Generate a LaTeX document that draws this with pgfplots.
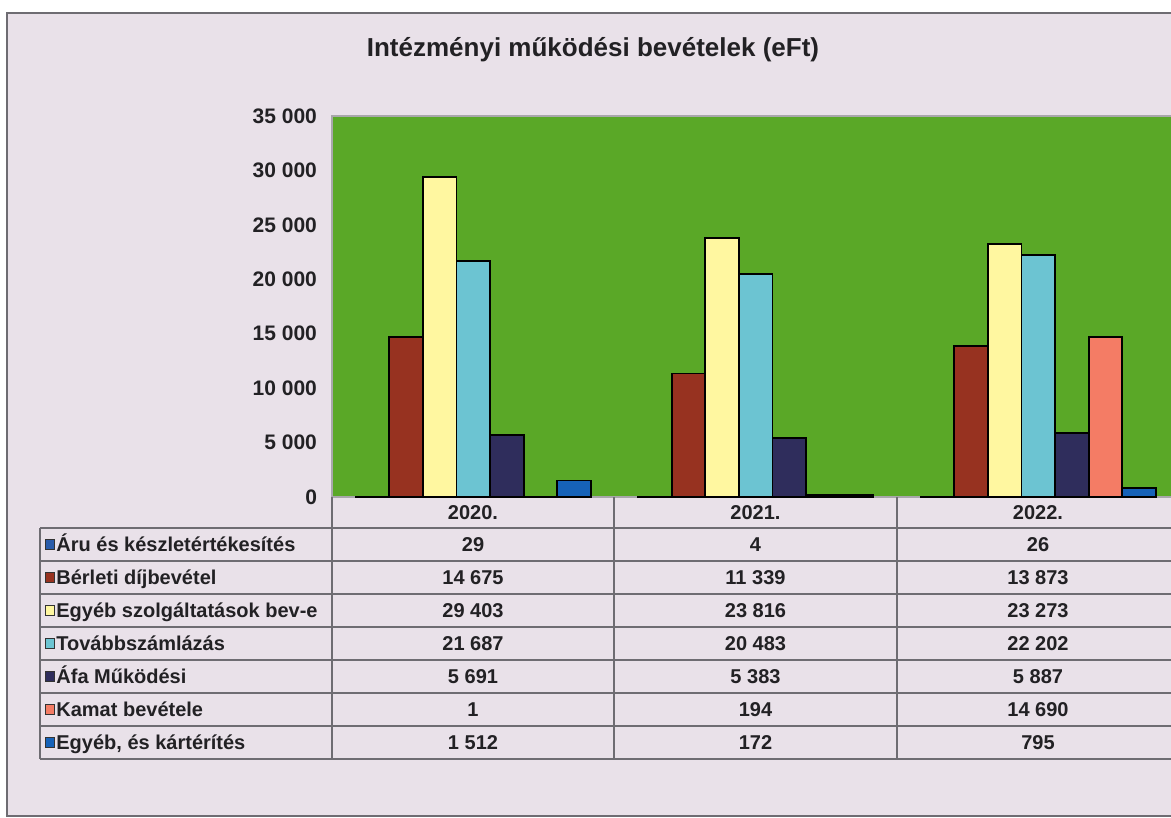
\documentclass[border=0pt]{standalone}
\usepackage{fontspec}
\setmainfont{Liberation Sans}
\usepackage{pgfplots}
\pgfplotsset{compat=1.18}

\definecolor{bgwash}{HTML}{E9E1E9}
\definecolor{plotgreen}{HTML}{5AA827}
\definecolor{gridgrey}{HTML}{6E6C72}
\definecolor{txt}{HTML}{222124}
\definecolor{c1}{HTML}{2A5CAA}
\definecolor{c2}{HTML}{973220}
\definecolor{c3}{HTML}{FFF7A0}
\definecolor{c4}{HTML}{6CC4D2}
\definecolor{c5}{HTML}{2F2D5C}
\definecolor{c6}{HTML}{F47C65}
\definecolor{c7}{HTML}{1662B8}

% rows of the data table: year, then one value per series
\pgfplotstableread{
x  aru bérl egyeb tovabb afa kamat karter
0  29  14675 29403 21687 5691 1     1512
1  4   11339 23816 20483 5383 194   172
2  26  13873 23273 22202 5887 14690 795
}\revenue

\tikzset{tabtext/.style={font=\bfseries\fontsize{10}{12}\selectfont, text=txt,
  text height=7.2pt, text depth=0pt, inner sep=0pt}}
\newcommand{\cell}[3]{\node[tabtext] at (#1,#2) {#3};}

\begin{document}
\begin{tikzpicture}
\useasboundingbox (0,0) rectangle (585.5pt,409pt);
\fill[white] (0,0) rectangle (585.5pt,409pt);

\begin{scope}[x=0.5pt, y=-0.5pt, yshift=409pt]
  \filldraw[fill=bgwash, draw=gridgrey, line width=0.8pt] (7,13) rectangle (1190,816);
  \node[font=\bfseries\fontsize{13}{15}\selectfont, text=txt] at (593,50) {Intézményi működési bevételek (eFt)};
\end{scope}

\begin{axis}[
  at={(166pt,160.5pt)}, anchor=south west,
  scale only axis, width=423.75pt, height=190.5pt,
  xmin=-0.5, xmax=2.5, ymin=0, ymax=35000,
  ybar=0pt, bar width=16.8pt,
  xtick=\empty,
  ytick={0,5000,...,35000},
  scaled y ticks=false,
  axis background/.style={fill=plotgreen},
  axis line style={draw=gridgrey!60, line width=0.8pt},
  tick style={draw=none},
  yticklabel style={font=\bfseries\fontsize{10.5}{12}\selectfont, text=txt, xshift=-4pt},
  /pgf/number format/1000 sep={\ },
  /pgf/number format/assume math mode=true,
  every axis plot/.append style={draw=black, line width=0.9pt},
  clip=false,
]
\addplot[fill=c1] table[x=x, y=aru] {\revenue};
\addplot[fill=c2] table[x=x, y=bérl] {\revenue};
\addplot[fill=c3] table[x=x, y=egyeb] {\revenue};
\addplot[fill=c4] table[x=x, y=tovabb] {\revenue};
\addplot[fill=c5] table[x=x, y=afa] {\revenue};
\addplot[fill=c6] table[x=x, y=kamat] {\revenue};
\addplot[fill=c7] table[x=x, y=karter] {\revenue};
\end{axis}

\begin{scope}[x=0.5pt, y=-0.5pt, yshift=409pt]
  \begin{scope}[draw=gridgrey, line width=0.75pt]
    \foreach \yy in {528,561,594,627,660,693,726,759} \draw (40,\yy) -- (1190,\yy);
    \draw (40,528) -- (40,759);
    \foreach \xx in {332,614,897,1179} \draw (\xx,497) -- (\xx,759);
  \end{scope}
  \cell{473}{512}{2020.}
  \cell{755.5}{512}{2021.}
  \cell{1038}{512}{2022.}
  \foreach \lab/\col [count=\i from 0] in {%
    Áru és készletértékesítés/c1,
    Bérleti díjbevétel/c2,
    Egyéb szolgáltatások bev-e/c3,
    Továbbszámlázás/c4,
    Áfa Működési/c5,
    Kamat bevétele/c6,
    Egyéb{,} és kártérítés/c7} {
    \pgfmathsetmacro{\yy}{544.5+33*\i}
    \filldraw[fill=\col, draw=black!80, line width=0.5pt] (45,\yy-5) rectangle (54,\yy+5);
    \node[tabtext, anchor=west] at (56,\yy) {\lab};
  }
  \cell{473}{544.5}{29}      \cell{755.5}{544.5}{4}       \cell{1038}{544.5}{26}
  \cell{473}{577.5}{14 675}  \cell{755.5}{577.5}{11 339}  \cell{1038}{577.5}{13 873}
  \cell{473}{610.5}{29 403}  \cell{755.5}{610.5}{23 816}  \cell{1038}{610.5}{23 273}
  \cell{473}{643.5}{21 687}  \cell{755.5}{643.5}{20 483}  \cell{1038}{643.5}{22 202}
  \cell{473}{676.5}{5 691}   \cell{755.5}{676.5}{5 383}   \cell{1038}{676.5}{5 887}
  \cell{473}{709.5}{1}       \cell{755.5}{709.5}{194}     \cell{1038}{709.5}{14 690}
  \cell{473}{742.5}{1 512}   \cell{755.5}{742.5}{172}     \cell{1038}{742.5}{795}
\end{scope}
\end{tikzpicture}
\end{document}
